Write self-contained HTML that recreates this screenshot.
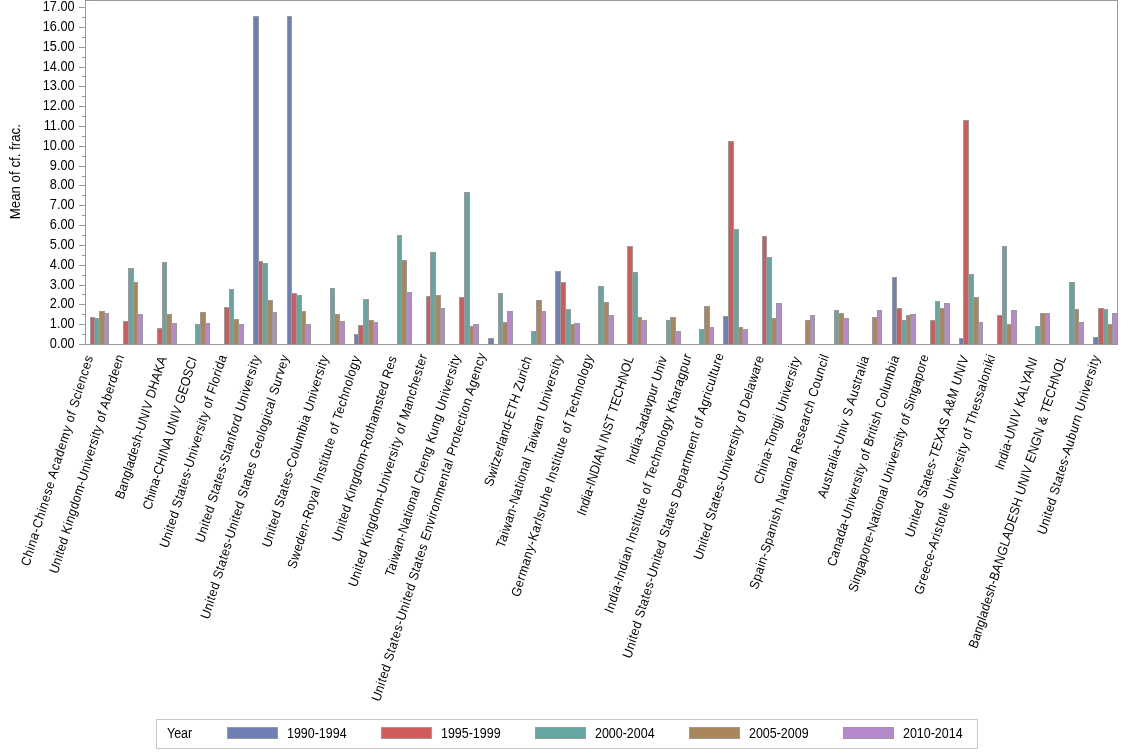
<!DOCTYPE html><html><head><meta charset="utf-8"><style>html,body{margin:0;padding:0;background:#fff;width:1134px;height:756px;overflow:hidden}svg{display:block;will-change:transform}text{font-family:"Liberation Sans",sans-serif;fill:#000}</style></head><body><svg width="1134" height="756" viewBox="0 0 1134 756"><rect x="0" y="0" width="1134" height="756" fill="#fff"/><g shape-rendering="crispEdges"><rect x="90" y="317" width="5" height="28" fill="#9A9A9A"/><rect x="91" y="318" width="3" height="26" fill="#D05B5B"/><rect x="94" y="318" width="6" height="27" fill="#9A9A9A"/><rect x="95" y="319" width="4" height="25" fill="#66A5A0"/><rect x="99" y="311" width="6" height="34" fill="#9A9A9A"/><rect x="100" y="312" width="4" height="32" fill="#A9865B"/><rect x="104" y="313" width="5" height="32" fill="#9A9A9A"/><rect x="105" y="314" width="3" height="30" fill="#B689CD"/><rect x="123" y="321" width="6" height="24" fill="#9A9A9A"/><rect x="124" y="322" width="4" height="22" fill="#D05B5B"/><rect x="128" y="268" width="6" height="77" fill="#9A9A9A"/><rect x="129" y="269" width="4" height="75" fill="#66A5A0"/><rect x="133" y="282" width="5" height="63" fill="#9A9A9A"/><rect x="134" y="283" width="3" height="61" fill="#A9865B"/><rect x="137" y="314" width="6" height="31" fill="#9A9A9A"/><rect x="138" y="315" width="4" height="29" fill="#B689CD"/><rect x="157" y="328" width="6" height="17" fill="#9A9A9A"/><rect x="158" y="329" width="4" height="15" fill="#D05B5B"/><rect x="162" y="262" width="5" height="83" fill="#9A9A9A"/><rect x="163" y="263" width="3" height="81" fill="#66A5A0"/><rect x="166" y="314" width="6" height="31" fill="#9A9A9A"/><rect x="167" y="315" width="4" height="29" fill="#A9865B"/><rect x="171" y="323" width="6" height="22" fill="#9A9A9A"/><rect x="172" y="324" width="4" height="20" fill="#B689CD"/><rect x="195" y="324" width="6" height="21" fill="#9A9A9A"/><rect x="196" y="325" width="4" height="19" fill="#66A5A0"/><rect x="200" y="312" width="6" height="33" fill="#9A9A9A"/><rect x="201" y="313" width="4" height="31" fill="#A9865B"/><rect x="205" y="323" width="5" height="22" fill="#9A9A9A"/><rect x="206" y="324" width="3" height="20" fill="#B689CD"/><rect x="224" y="307" width="6" height="38" fill="#9A9A9A"/><rect x="225" y="308" width="4" height="36" fill="#D05B5B"/><rect x="229" y="289" width="5" height="56" fill="#9A9A9A"/><rect x="230" y="290" width="3" height="54" fill="#66A5A0"/><rect x="233" y="319" width="6" height="26" fill="#9A9A9A"/><rect x="234" y="320" width="4" height="24" fill="#A9865B"/><rect x="238" y="324" width="6" height="21" fill="#9A9A9A"/><rect x="239" y="325" width="4" height="19" fill="#B689CD"/><rect x="253" y="16" width="6" height="329" fill="#9A9A9A"/><rect x="254" y="17" width="4" height="327" fill="#6F7EB3"/><rect x="258" y="261" width="5" height="84" fill="#9A9A9A"/><rect x="259" y="262" width="3" height="82" fill="#D05B5B"/><rect x="262" y="263" width="6" height="82" fill="#9A9A9A"/><rect x="263" y="264" width="4" height="80" fill="#66A5A0"/><rect x="267" y="300" width="6" height="45" fill="#9A9A9A"/><rect x="268" y="301" width="4" height="43" fill="#A9865B"/><rect x="272" y="312" width="5" height="33" fill="#9A9A9A"/><rect x="273" y="313" width="3" height="31" fill="#B689CD"/><rect x="287" y="16" width="5" height="329" fill="#9A9A9A"/><rect x="288" y="17" width="3" height="327" fill="#6F7EB3"/><rect x="291" y="293" width="6" height="52" fill="#9A9A9A"/><rect x="292" y="294" width="4" height="50" fill="#D05B5B"/><rect x="296" y="295" width="6" height="50" fill="#9A9A9A"/><rect x="297" y="296" width="4" height="48" fill="#66A5A0"/><rect x="301" y="311" width="5" height="34" fill="#9A9A9A"/><rect x="302" y="312" width="3" height="32" fill="#A9865B"/><rect x="305" y="324" width="6" height="21" fill="#9A9A9A"/><rect x="306" y="325" width="4" height="19" fill="#B689CD"/><rect x="330" y="288" width="5" height="57" fill="#9A9A9A"/><rect x="331" y="289" width="3" height="55" fill="#66A5A0"/><rect x="334" y="314" width="6" height="31" fill="#9A9A9A"/><rect x="335" y="315" width="4" height="29" fill="#A9865B"/><rect x="339" y="321" width="6" height="24" fill="#9A9A9A"/><rect x="340" y="322" width="4" height="22" fill="#B689CD"/><rect x="354" y="334" width="5" height="11" fill="#9A9A9A"/><rect x="355" y="335" width="3" height="9" fill="#6F7EB3"/><rect x="358" y="325" width="6" height="20" fill="#9A9A9A"/><rect x="359" y="326" width="4" height="18" fill="#D05B5B"/><rect x="363" y="299" width="6" height="46" fill="#9A9A9A"/><rect x="364" y="300" width="4" height="44" fill="#66A5A0"/><rect x="368" y="320" width="6" height="25" fill="#9A9A9A"/><rect x="369" y="321" width="4" height="23" fill="#A9865B"/><rect x="373" y="322" width="5" height="23" fill="#9A9A9A"/><rect x="374" y="323" width="3" height="21" fill="#B689CD"/><rect x="397" y="235" width="5" height="110" fill="#9A9A9A"/><rect x="398" y="236" width="3" height="108" fill="#66A5A0"/><rect x="401" y="260" width="6" height="85" fill="#9A9A9A"/><rect x="402" y="261" width="4" height="83" fill="#A9865B"/><rect x="406" y="292" width="6" height="53" fill="#9A9A9A"/><rect x="407" y="293" width="4" height="51" fill="#B689CD"/><rect x="426" y="296" width="5" height="49" fill="#9A9A9A"/><rect x="427" y="297" width="3" height="47" fill="#D05B5B"/><rect x="430" y="252" width="6" height="93" fill="#9A9A9A"/><rect x="431" y="253" width="4" height="91" fill="#66A5A0"/><rect x="435" y="295" width="6" height="50" fill="#9A9A9A"/><rect x="436" y="296" width="4" height="48" fill="#A9865B"/><rect x="440" y="308" width="5" height="37" fill="#9A9A9A"/><rect x="441" y="309" width="3" height="35" fill="#B689CD"/><rect x="459" y="297" width="6" height="48" fill="#9A9A9A"/><rect x="460" y="298" width="4" height="46" fill="#D05B5B"/><rect x="464" y="192" width="6" height="153" fill="#9A9A9A"/><rect x="465" y="193" width="4" height="151" fill="#66A5A0"/><rect x="469" y="326" width="5" height="19" fill="#9A9A9A"/><rect x="470" y="327" width="3" height="17" fill="#A9865B"/><rect x="473" y="324" width="6" height="21" fill="#9A9A9A"/><rect x="474" y="325" width="4" height="19" fill="#B689CD"/><rect x="488" y="338" width="6" height="7" fill="#9A9A9A"/><rect x="489" y="339" width="4" height="5" fill="#6F7EB3"/><rect x="498" y="293" width="5" height="52" fill="#9A9A9A"/><rect x="499" y="294" width="3" height="50" fill="#66A5A0"/><rect x="502" y="322" width="6" height="23" fill="#9A9A9A"/><rect x="503" y="323" width="4" height="21" fill="#A9865B"/><rect x="507" y="311" width="6" height="34" fill="#9A9A9A"/><rect x="508" y="312" width="4" height="32" fill="#B689CD"/><rect x="531" y="331" width="6" height="14" fill="#9A9A9A"/><rect x="532" y="332" width="4" height="12" fill="#66A5A0"/><rect x="536" y="300" width="6" height="45" fill="#9A9A9A"/><rect x="537" y="301" width="4" height="43" fill="#A9865B"/><rect x="541" y="311" width="5" height="34" fill="#9A9A9A"/><rect x="542" y="312" width="3" height="32" fill="#B689CD"/><rect x="555" y="271" width="6" height="74" fill="#9A9A9A"/><rect x="556" y="272" width="4" height="72" fill="#6F7EB3"/><rect x="560" y="282" width="6" height="63" fill="#9A9A9A"/><rect x="561" y="283" width="4" height="61" fill="#D05B5B"/><rect x="565" y="309" width="6" height="36" fill="#9A9A9A"/><rect x="566" y="310" width="4" height="34" fill="#66A5A0"/><rect x="570" y="324" width="5" height="21" fill="#9A9A9A"/><rect x="571" y="325" width="3" height="19" fill="#A9865B"/><rect x="574" y="323" width="6" height="22" fill="#9A9A9A"/><rect x="575" y="324" width="4" height="20" fill="#B689CD"/><rect x="598" y="286" width="6" height="59" fill="#9A9A9A"/><rect x="599" y="287" width="4" height="57" fill="#66A5A0"/><rect x="603" y="302" width="6" height="43" fill="#9A9A9A"/><rect x="604" y="303" width="4" height="41" fill="#A9865B"/><rect x="608" y="315" width="6" height="30" fill="#9A9A9A"/><rect x="609" y="316" width="4" height="28" fill="#B689CD"/><rect x="627" y="246" width="6" height="99" fill="#9A9A9A"/><rect x="628" y="247" width="4" height="97" fill="#D05B5B"/><rect x="632" y="272" width="6" height="73" fill="#9A9A9A"/><rect x="633" y="273" width="4" height="71" fill="#66A5A0"/><rect x="637" y="317" width="5" height="28" fill="#9A9A9A"/><rect x="638" y="318" width="3" height="26" fill="#A9865B"/><rect x="641" y="320" width="6" height="25" fill="#9A9A9A"/><rect x="642" y="321" width="4" height="23" fill="#B689CD"/><rect x="666" y="320" width="5" height="25" fill="#9A9A9A"/><rect x="667" y="321" width="3" height="23" fill="#66A5A0"/><rect x="670" y="317" width="6" height="28" fill="#9A9A9A"/><rect x="671" y="318" width="4" height="26" fill="#A9865B"/><rect x="675" y="331" width="6" height="14" fill="#9A9A9A"/><rect x="676" y="332" width="4" height="12" fill="#B689CD"/><rect x="699" y="329" width="6" height="16" fill="#9A9A9A"/><rect x="700" y="330" width="4" height="14" fill="#66A5A0"/><rect x="704" y="306" width="6" height="39" fill="#9A9A9A"/><rect x="705" y="307" width="4" height="37" fill="#A9865B"/><rect x="709" y="327" width="5" height="18" fill="#9A9A9A"/><rect x="710" y="328" width="3" height="16" fill="#B689CD"/><rect x="723" y="316" width="6" height="29" fill="#9A9A9A"/><rect x="724" y="317" width="4" height="27" fill="#6F7EB3"/><rect x="728" y="141" width="6" height="204" fill="#9A9A9A"/><rect x="729" y="142" width="4" height="202" fill="#D05B5B"/><rect x="733" y="229" width="6" height="116" fill="#9A9A9A"/><rect x="734" y="230" width="4" height="114" fill="#66A5A0"/><rect x="738" y="327" width="5" height="18" fill="#9A9A9A"/><rect x="739" y="328" width="3" height="16" fill="#A9865B"/><rect x="742" y="329" width="6" height="16" fill="#9A9A9A"/><rect x="743" y="330" width="4" height="14" fill="#B689CD"/><rect x="762" y="236" width="5" height="109" fill="#9A9A9A"/><rect x="763" y="237" width="3" height="107" fill="#D05B5B"/><rect x="766" y="257" width="6" height="88" fill="#9A9A9A"/><rect x="767" y="258" width="4" height="86" fill="#66A5A0"/><rect x="771" y="318" width="6" height="27" fill="#9A9A9A"/><rect x="772" y="319" width="4" height="25" fill="#A9865B"/><rect x="776" y="303" width="6" height="42" fill="#9A9A9A"/><rect x="777" y="304" width="4" height="40" fill="#B689CD"/><rect x="805" y="320" width="6" height="25" fill="#9A9A9A"/><rect x="806" y="321" width="4" height="23" fill="#A9865B"/><rect x="810" y="315" width="5" height="30" fill="#9A9A9A"/><rect x="811" y="316" width="3" height="28" fill="#B689CD"/><rect x="834" y="310" width="5" height="35" fill="#9A9A9A"/><rect x="835" y="311" width="3" height="33" fill="#66A5A0"/><rect x="838" y="313" width="6" height="32" fill="#9A9A9A"/><rect x="839" y="314" width="4" height="30" fill="#A9865B"/><rect x="843" y="318" width="6" height="27" fill="#9A9A9A"/><rect x="844" y="319" width="4" height="25" fill="#B689CD"/><rect x="872" y="317" width="6" height="28" fill="#9A9A9A"/><rect x="873" y="318" width="4" height="26" fill="#A9865B"/><rect x="877" y="310" width="5" height="35" fill="#9A9A9A"/><rect x="878" y="311" width="3" height="33" fill="#B689CD"/><rect x="892" y="277" width="5" height="68" fill="#9A9A9A"/><rect x="893" y="278" width="3" height="66" fill="#6F7EB3"/><rect x="896" y="308" width="6" height="37" fill="#9A9A9A"/><rect x="897" y="309" width="4" height="35" fill="#D05B5B"/><rect x="901" y="320" width="6" height="25" fill="#9A9A9A"/><rect x="902" y="321" width="4" height="23" fill="#66A5A0"/><rect x="906" y="315" width="5" height="30" fill="#9A9A9A"/><rect x="907" y="316" width="3" height="28" fill="#A9865B"/><rect x="910" y="314" width="6" height="31" fill="#9A9A9A"/><rect x="911" y="315" width="4" height="29" fill="#B689CD"/><rect x="930" y="320" width="6" height="25" fill="#9A9A9A"/><rect x="931" y="321" width="4" height="23" fill="#D05B5B"/><rect x="935" y="301" width="5" height="44" fill="#9A9A9A"/><rect x="936" y="302" width="3" height="42" fill="#66A5A0"/><rect x="939" y="308" width="6" height="37" fill="#9A9A9A"/><rect x="940" y="309" width="4" height="35" fill="#A9865B"/><rect x="944" y="303" width="6" height="42" fill="#9A9A9A"/><rect x="945" y="304" width="4" height="40" fill="#B689CD"/><rect x="959" y="338" width="5" height="7" fill="#9A9A9A"/><rect x="960" y="339" width="3" height="5" fill="#6F7EB3"/><rect x="963" y="120" width="6" height="225" fill="#9A9A9A"/><rect x="964" y="121" width="4" height="223" fill="#D05B5B"/><rect x="968" y="274" width="6" height="71" fill="#9A9A9A"/><rect x="969" y="275" width="4" height="69" fill="#66A5A0"/><rect x="973" y="297" width="6" height="48" fill="#9A9A9A"/><rect x="974" y="298" width="4" height="46" fill="#A9865B"/><rect x="978" y="322" width="5" height="23" fill="#9A9A9A"/><rect x="979" y="323" width="3" height="21" fill="#B689CD"/><rect x="997" y="315" width="6" height="30" fill="#9A9A9A"/><rect x="998" y="316" width="4" height="28" fill="#D05B5B"/><rect x="1002" y="246" width="5" height="99" fill="#9A9A9A"/><rect x="1003" y="247" width="3" height="97" fill="#66A5A0"/><rect x="1006" y="324" width="6" height="21" fill="#9A9A9A"/><rect x="1007" y="325" width="4" height="19" fill="#A9865B"/><rect x="1011" y="310" width="6" height="35" fill="#9A9A9A"/><rect x="1012" y="311" width="4" height="33" fill="#B689CD"/><rect x="1035" y="326" width="6" height="19" fill="#9A9A9A"/><rect x="1036" y="327" width="4" height="17" fill="#66A5A0"/><rect x="1040" y="313" width="6" height="32" fill="#9A9A9A"/><rect x="1041" y="314" width="4" height="30" fill="#A9865B"/><rect x="1045" y="313" width="5" height="32" fill="#9A9A9A"/><rect x="1046" y="314" width="3" height="30" fill="#B689CD"/><rect x="1069" y="282" width="6" height="63" fill="#9A9A9A"/><rect x="1070" y="283" width="4" height="61" fill="#66A5A0"/><rect x="1074" y="309" width="5" height="36" fill="#9A9A9A"/><rect x="1075" y="310" width="3" height="34" fill="#A9865B"/><rect x="1078" y="322" width="6" height="23" fill="#9A9A9A"/><rect x="1079" y="323" width="4" height="21" fill="#B689CD"/><rect x="1093" y="337" width="6" height="8" fill="#9A9A9A"/><rect x="1094" y="338" width="4" height="6" fill="#6F7EB3"/><rect x="1098" y="308" width="6" height="37" fill="#9A9A9A"/><rect x="1099" y="309" width="4" height="35" fill="#D05B5B"/><rect x="1103" y="309" width="5" height="36" fill="#9A9A9A"/><rect x="1104" y="310" width="3" height="34" fill="#66A5A0"/><rect x="1107" y="324" width="6" height="21" fill="#9A9A9A"/><rect x="1108" y="325" width="4" height="19" fill="#A9865B"/><rect x="1112" y="313" width="6" height="32" fill="#9A9A9A"/><rect x="1113" y="314" width="4" height="30" fill="#B689CD"/><path d="M85.5 0 V344.5 H1117.5 V0.5 H85.5" fill="none" stroke="#949A9F" stroke-width="1"/><rect x="79" y="344" width="6" height="1" fill="#949A9F"/><rect x="82" y="334" width="3" height="1" fill="#949A9F"/><rect x="79" y="324" width="6" height="1" fill="#949A9F"/><rect x="82" y="314" width="3" height="1" fill="#949A9F"/><rect x="79" y="304" width="6" height="1" fill="#949A9F"/><rect x="82" y="294" width="3" height="1" fill="#949A9F"/><rect x="79" y="285" width="6" height="1" fill="#949A9F"/><rect x="82" y="275" width="3" height="1" fill="#949A9F"/><rect x="79" y="265" width="6" height="1" fill="#949A9F"/><rect x="82" y="255" width="3" height="1" fill="#949A9F"/><rect x="79" y="245" width="6" height="1" fill="#949A9F"/><rect x="82" y="235" width="3" height="1" fill="#949A9F"/><rect x="79" y="225" width="6" height="1" fill="#949A9F"/><rect x="82" y="215" width="3" height="1" fill="#949A9F"/><rect x="79" y="205" width="6" height="1" fill="#949A9F"/><rect x="82" y="195" width="3" height="1" fill="#949A9F"/><rect x="79" y="185" width="6" height="1" fill="#949A9F"/><rect x="82" y="176" width="3" height="1" fill="#949A9F"/><rect x="79" y="166" width="6" height="1" fill="#949A9F"/><rect x="82" y="156" width="3" height="1" fill="#949A9F"/><rect x="79" y="146" width="6" height="1" fill="#949A9F"/><rect x="82" y="136" width="3" height="1" fill="#949A9F"/><rect x="79" y="126" width="6" height="1" fill="#949A9F"/><rect x="82" y="116" width="3" height="1" fill="#949A9F"/><rect x="79" y="106" width="6" height="1" fill="#949A9F"/><rect x="82" y="96" width="3" height="1" fill="#949A9F"/><rect x="79" y="86" width="6" height="1" fill="#949A9F"/><rect x="82" y="76" width="3" height="1" fill="#949A9F"/><rect x="79" y="67" width="6" height="1" fill="#949A9F"/><rect x="82" y="57" width="3" height="1" fill="#949A9F"/><rect x="79" y="47" width="6" height="1" fill="#949A9F"/><rect x="82" y="37" width="3" height="1" fill="#949A9F"/><rect x="79" y="27" width="6" height="1" fill="#949A9F"/><rect x="82" y="17" width="3" height="1" fill="#949A9F"/><rect x="79" y="7" width="6" height="1" fill="#949A9F"/></g><text transform="translate(74.6,348.00) scale(0.91,1)" font-size="14" text-anchor="end">0.00</text><text transform="translate(74.6,328.00) scale(0.91,1)" font-size="14" text-anchor="end">1.00</text><text transform="translate(74.6,308.00) scale(0.91,1)" font-size="14" text-anchor="end">2.00</text><text transform="translate(74.6,289.00) scale(0.91,1)" font-size="14" text-anchor="end">3.00</text><text transform="translate(74.6,269.00) scale(0.91,1)" font-size="14" text-anchor="end">4.00</text><text transform="translate(74.6,249.00) scale(0.91,1)" font-size="14" text-anchor="end">5.00</text><text transform="translate(74.6,229.00) scale(0.91,1)" font-size="14" text-anchor="end">6.00</text><text transform="translate(74.6,209.00) scale(0.91,1)" font-size="14" text-anchor="end">7.00</text><text transform="translate(74.6,189.00) scale(0.91,1)" font-size="14" text-anchor="end">8.00</text><text transform="translate(74.6,170.00) scale(0.91,1)" font-size="14" text-anchor="end">9.00</text><text transform="translate(74.6,150.00) scale(0.91,1)" font-size="14" text-anchor="end">10.00</text><text transform="translate(74.6,130.00) scale(0.91,1)" font-size="14" text-anchor="end">11.00</text><text transform="translate(74.6,110.00) scale(0.91,1)" font-size="14" text-anchor="end">12.00</text><text transform="translate(74.6,90.00) scale(0.91,1)" font-size="14" text-anchor="end">13.00</text><text transform="translate(74.6,71.00) scale(0.91,1)" font-size="14" text-anchor="end">14.00</text><text transform="translate(74.6,51.00) scale(0.91,1)" font-size="14" text-anchor="end">15.00</text><text transform="translate(74.6,31.00) scale(0.91,1)" font-size="14" text-anchor="end">16.00</text><text transform="translate(74.6,11.00) scale(0.91,1)" font-size="14" text-anchor="end">17.00</text><text transform="translate(20,171.7) rotate(-90) scale(0.95,1)" font-size="14" text-anchor="middle">Mean of cf. frac.</text><g class="lab" transform="matrix(1.00000,0.00000,-0.00000,1.00000,0.400,-0.100)"><text transform="translate(28.40,567.07) rotate(-73) scale(0.92,1)" rotate="5" font-size="13.3" textLength="238.21" lengthAdjust="spacing">China-Chinese Academy of Sciences</text></g><g class="lab" transform="matrix(1.00000,0.00000,-0.00000,1.00000,-1.850,-0.750)"><text transform="translate(59.03,575.26) rotate(-73) scale(0.92,1)" rotate="5" font-size="13.3" textLength="247.68" lengthAdjust="spacing">United Kingdom-University of Aberdeen</text></g><g class="lab" transform="matrix(1.00000,0.00000,-0.00000,1.00000,3.100,-0.550)"><text transform="translate(119.85,500.50) rotate(-73) scale(0.92,1)" rotate="5" font-size="13.3" textLength="161.22" lengthAdjust="spacing">Bangladesh-UNIV DHAKA</text></g><g class="lab" transform="matrix(1.00000,0.00000,-0.00000,1.00000,0.550,0.300)"><text transform="translate(149.87,510.36) rotate(-73) scale(0.92,1)" rotate="5" font-size="13.3" textLength="172.62" lengthAdjust="spacing">China-CHINA UNIV GEOSCI</text></g><g class="lab" transform="matrix(1.00000,0.00000,-0.00000,1.00000,-1.450,-1.150)"><text transform="translate(169.07,549.96) rotate(-73) scale(0.92,1)" rotate="5" font-size="13.3" textLength="218.42" lengthAdjust="spacing">United States-University of Florida</text></g><g class="lab" transform="matrix(1.00000,0.00000,-0.00000,1.00000,-1.550,-0.800)"><text transform="translate(204.78,544.20) rotate(-73) scale(0.92,1)" rotate="5" font-size="13.3" textLength="211.76" lengthAdjust="spacing">United States-Stanford University</text></g><g class="lab" transform="matrix(1.00000,0.00000,-0.00000,1.00000,-2.450,0.350)"><text transform="translate(210.89,619.76) rotate(-73) scale(0.92,1)" rotate="5" font-size="13.3" textLength="299.16" lengthAdjust="spacing">United States-United States Geological Survey</text></g><g class="lab" transform="matrix(1.00000,0.00000,-0.00000,1.00000,-0.500,-0.350)"><text transform="translate(270.38,548.65) rotate(-73) scale(0.92,1)" rotate="5" font-size="13.3" textLength="216.91" lengthAdjust="spacing">United States-Columbia University</text></g><g class="lab" transform="matrix(1.00000,0.00000,-0.00000,1.00000,-1.200,0.200)"><text transform="translate(296.46,569.33) rotate(-73) scale(0.92,1)" rotate="5" font-size="13.3" textLength="240.83" lengthAdjust="spacing">Sweden-Royal Institute of Technology</text></g><g class="lab" transform="matrix(1.00000,0.00000,-0.00000,1.00000,0.250,-0.100)"><text transform="translate(339.80,542.61) rotate(-73) scale(0.92,1)" rotate="5" font-size="13.3" textLength="209.92" lengthAdjust="spacing">United Kingdom-Rothamsted Res</text></g><g class="lab" transform="matrix(1.00000,0.00000,-0.00000,1.00000,-0.250,-1.200)"><text transform="translate(356.51,589.05) rotate(-73) scale(0.92,1)" rotate="5" font-size="13.3" textLength="263.63" lengthAdjust="spacing">United Kingdom-University of Manchester</text></g><g class="lab" transform="matrix(1.00000,0.00000,-0.00000,1.00000,-1.200,-0.550)"><text transform="translate(394.12,578.04) rotate(-73) scale(0.92,1)" rotate="5" font-size="13.3" textLength="250.91" lengthAdjust="spacing">Taiwan-National Cheng Kung University</text></g><g class="lab" transform="matrix(1.00000,0.00000,-0.00000,1.00000,-3.050,-0.200)"><text transform="translate(382.43,702.52) rotate(-73) scale(0.92,1)" rotate="5" font-size="13.3" textLength="394.89" lengthAdjust="spacing">United States-United States Environmental Protection Agency</text></g><g class="lab" transform="matrix(1.00000,0.00000,-0.00000,1.00000,-2.000,-0.750)"><text transform="translate(494.08,488.08) rotate(-73) scale(0.92,1)" rotate="5" font-size="13.3" textLength="146.85" lengthAdjust="spacing">Switzerland-ETH Zurich</text></g><g class="lab" transform="matrix(1.00000,0.00000,-0.00000,1.00000,-1.500,-0.550)"><text transform="translate(505.40,549.34) rotate(-73) scale(0.92,1)" rotate="5" font-size="13.3" textLength="217.71" lengthAdjust="spacing">Taiwan-National Taiwan University</text></g><g class="lab" transform="matrix(1.00000,0.00000,-0.00000,1.00000,-2.250,-0.600)"><text transform="translate(521.16,598.38) rotate(-73) scale(0.92,1)" rotate="5" font-size="13.3" textLength="274.43" lengthAdjust="spacing">Germany-Karlsruhe Institute of Technology</text></g><g class="lab" transform="matrix(1.00000,0.00000,-0.00000,1.00000,0.500,-0.650)"><text transform="translate(584.38,517.03) rotate(-73) scale(0.92,1)" rotate="5" font-size="13.3" textLength="180.33" lengthAdjust="spacing">India-INDIAN INST TECHNOL</text></g><g class="lab" transform="matrix(1.00000,0.00000,-0.00000,1.00000,-2.350,-1.050)"><text transform="translate(636.53,466.08) rotate(-73) scale(0.92,1)" rotate="5" font-size="13.3" textLength="121.40" lengthAdjust="spacing">India-Jadavpur Univ</text></g><g class="lab" transform="matrix(1.00000,0.00000,-0.00000,1.00000,-3.400,-1.000)"><text transform="translate(615.98,614.90) rotate(-73) scale(0.92,1)" rotate="5" font-size="13.3" textLength="293.54" lengthAdjust="spacing">India-Indian Institute of Technology Kharagpur</text></g><g class="lab" transform="matrix(1.00000,0.00000,-0.00000,1.00000,-2.750,-0.900)"><text transform="translate(633.16,660.03) rotate(-73) scale(0.92,1)" rotate="5" font-size="13.3" textLength="345.74" lengthAdjust="spacing">United States-United States Department of Agriculture</text></g><g class="lab" transform="matrix(1.00000,0.00000,-0.00000,1.00000,-1.350,-0.200)"><text transform="translate(702.79,561.06) rotate(-73) scale(0.92,1)" rotate="5" font-size="13.3" textLength="231.26" lengthAdjust="spacing">United States-University of Delaware</text></g><g class="lab" transform="matrix(1.00000,0.00000,-0.00000,1.00000,-2.250,-0.200)"><text transform="translate(764.03,485.14) rotate(-73) scale(0.92,1)" rotate="5" font-size="13.3" textLength="143.44" lengthAdjust="spacing">China-Tongji University</text></g><g class="lab" transform="matrix(1.00000,0.00000,-0.00000,1.00000,-1.850,-0.600)"><text transform="translate(759.20,590.77) rotate(-73) scale(0.92,1)" rotate="5" font-size="13.3" textLength="265.62" lengthAdjust="spacing">Spain-Spanish National Research Council</text></g><g class="lab" transform="matrix(1.00000,0.00000,-0.00000,1.00000,-0.250,-1.050)"><text transform="translate(825.80,500.13) rotate(-73) scale(0.92,1)" rotate="5" font-size="13.3" textLength="160.79" lengthAdjust="spacing">Australia-Univ S Australia</text></g><g class="lab" transform="matrix(1.00000,0.00000,-0.00000,1.00000,-0.050,-0.200)"><text transform="translate(834.93,567.39) rotate(-73) scale(0.92,1)" rotate="5" font-size="13.3" textLength="238.59" lengthAdjust="spacing">Canada-University of British Columbia</text></g><g class="lab" transform="matrix(1.00000,0.00000,-0.00000,1.00000,-2.700,-0.700)"><text transform="translate(858.92,593.81) rotate(-73) scale(0.92,1)" rotate="5" font-size="13.3" textLength="269.14" lengthAdjust="spacing">Singapore-National University of Singapore</text></g><g class="lab" transform="matrix(1.00000,0.00000,-0.00000,1.00000,0.500,-0.650)"><text transform="translate(912.48,539.00) rotate(-73) scale(0.92,1)" rotate="5" font-size="13.3" textLength="205.74" lengthAdjust="spacing">United States-TEXAS A&amp;M UNIV</text></g><g class="lab" transform="matrix(1.00000,0.00000,-0.00000,1.00000,-3.250,-0.600)"><text transform="translate(925.32,596.06) rotate(-73) scale(0.92,1)" rotate="5" font-size="13.3" textLength="271.75" lengthAdjust="spacing">Greece-Aristotle University of Thessaloniki</text></g><g class="lab" transform="matrix(1.00000,0.00000,-0.00000,1.00000,-1.450,0.000)"><text transform="translate(1004.50,470.86) rotate(-73) scale(0.92,1)" rotate="5" font-size="13.3" textLength="126.93" lengthAdjust="spacing">India-UNIV KALYANI</text></g><g class="lab" transform="matrix(1.00000,0.00000,-0.00000,1.00000,2.950,1.350)"><text transform="translate(973.66,647.93) rotate(-73) scale(0.92,1)" rotate="5" font-size="13.3" textLength="331.74" lengthAdjust="spacing">Bangladesh-BANGLADESH UNIV ENGN &amp; TECHNOL</text></g><g class="lab" transform="matrix(1.00000,0.00000,-0.00000,1.00000,-2.550,-0.800)"><text transform="translate(1047.92,536.25) rotate(-73) scale(0.92,1)" rotate="5" font-size="13.3" textLength="202.57" lengthAdjust="spacing">United States-Auburn University</text></g><rect x="156.5" y="719.5" width="821" height="29" fill="none" stroke="#C8C8C8" stroke-width="1"/><text transform="translate(167,738) scale(0.89,1)" font-size="14">Year</text><rect x="227.5" y="727.5" width="50" height="11" fill="#6F7EB3" stroke="#9A9A9A" stroke-width="1"/><text transform="translate(287,738) scale(0.89,1)" font-size="14">1990-1994</text><rect x="381.5" y="727.5" width="50" height="11" fill="#D05B5B" stroke="#9A9A9A" stroke-width="1"/><text transform="translate(441,738) scale(0.89,1)" font-size="14">1995-1999</text><rect x="535.5" y="727.5" width="50" height="11" fill="#66A5A0" stroke="#9A9A9A" stroke-width="1"/><text transform="translate(595,738) scale(0.89,1)" font-size="14">2000-2004</text><rect x="689.5" y="727.5" width="50" height="11" fill="#A9865B" stroke="#9A9A9A" stroke-width="1"/><text transform="translate(749,738) scale(0.89,1)" font-size="14">2005-2009</text><rect x="843.5" y="727.5" width="50" height="11" fill="#B689CD" stroke="#9A9A9A" stroke-width="1"/><text transform="translate(903,738) scale(0.89,1)" font-size="14">2010-2014</text></svg></body></html>
